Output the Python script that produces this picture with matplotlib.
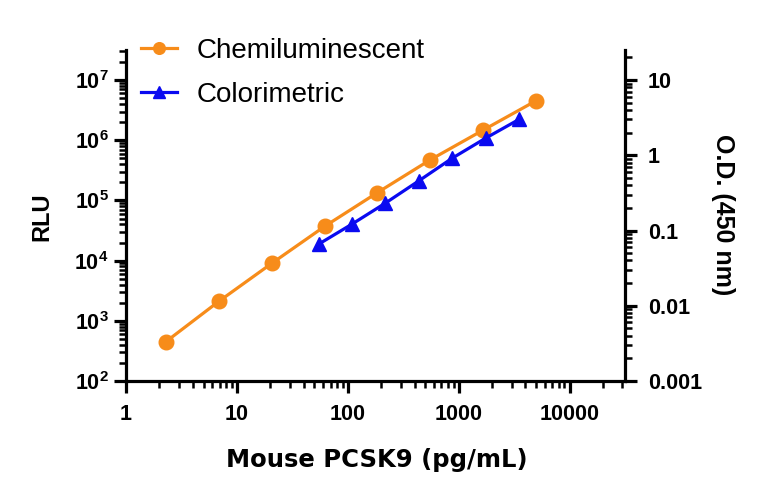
import numpy as np
import matplotlib
matplotlib.use("Agg")
import matplotlib.pyplot as plt
from matplotlib.ticker import LogLocator, NullFormatter, FuncFormatter

# Chemiluminescent standard curve (3-fold dilutions)
chemi_conc = [2.29, 6.86, 20.6, 61.7, 185, 556, 1667, 5000]
chemi_rlu = [450, 2100, 9000, 37000, 135000, 475000, 1.48e6, 4.55e6]

# Colorimetric standard curve (2-fold dilutions)
color_conc = [54.7, 109.4, 218.8, 437.5, 875, 1750, 3500]
color_od = [0.066, 0.122, 0.232, 0.458, 0.916, 1.69, 3.0]

xticks = [1, 10, 100, 1000, 10000]
xtick_labels = ["1", "10", "100", "1000", "10000"]
od_ticks = [0.001, 0.01, 0.1, 1, 10]
od_labels = ["0.001", "0.01", "0.1", "1", "10"]

orange = "#F78C1A"
blue = "#0A0AF0"

plt.rcParams["font.family"] = ["Liberation Sans", "DejaVu Sans"]
plt.rcParams["mathtext.fontset"] = "custom"
plt.rcParams["mathtext.rm"] = "Liberation Sans:bold"
plt.rcParams["mathtext.it"] = "Liberation Sans:bold"
plt.rcParams["mathtext.bf"] = "Liberation Sans:bold"

W, H = 768, 497
fig = plt.figure(figsize=(7.68, 4.97), dpi=100)
ax = fig.add_axes([126 / W, 1 - 381 / H, 499 / W, 331 / H])
ax2 = ax.twinx()

l1, = ax.plot(chemi_conc, chemi_rlu, "-o", color=orange, lw=2.3, ms=10.5,
              label="Chemiluminescent", zorder=3)
l2, = ax2.plot(color_conc, color_od, "-^", color=blue, lw=2.3, ms=10.5,
               label="Colorimetric", zorder=3)

ax.set_xscale("log")
ax.set_yscale("log")
ax2.set_yscale("log")
ax.set_xlim(1, 10 ** 4.5)
ax.set_ylim(100, 10 ** 7.5)
ax2.set_ylim(0.001, 10 ** 1.4)

for a in (ax, ax2):
    a.spines["top"].set_visible(False)
    for s in a.spines.values():
        s.set_linewidth(2.3)
ax.spines["right"].set_visible(False)
ax2.spines["left"].set_visible(False)
ax2.spines["bottom"].set_visible(False)

sub = np.arange(2, 10)
ax.set_xticks(xticks)
ax.set_xticklabels(xtick_labels)
ax.xaxis.set_minor_locator(LogLocator(base=10, subs=sub, numticks=20))
ax.xaxis.set_minor_formatter(NullFormatter())

ax.yaxis.set_major_locator(LogLocator(base=10, numticks=10))
ax.yaxis.set_minor_locator(LogLocator(base=10, subs=sub, numticks=20))
ax.yaxis.set_major_formatter(FuncFormatter(lambda v, p: r"$10^{%d}$" % round(np.log10(v))))
ax.yaxis.set_minor_formatter(NullFormatter())

ax2.set_yticks(od_ticks)
ax2.set_yticklabels(od_labels)
ax2.yaxis.set_minor_locator(LogLocator(base=10, subs=sub, numticks=20))
ax2.yaxis.set_minor_formatter(NullFormatter())

for a in (ax, ax2):
    a.tick_params(which="major", length=8.5, width=2.3, labelsize=15.5)
    a.tick_params(which="minor", length=5, width=1.8)
for lab in ax.get_xticklabels() + ax2.get_yticklabels():
    lab.set_fontweight("bold")
ax.tick_params(axis="x", which="major", pad=8)
ax.tick_params(axis="y", which="major", pad=4)
ax2.tick_params(axis="y", which="major", pad=8)

fig.text(377 / W, 1 - 460 / H, "Mouse PCSK9 (pg/mL)", fontsize=17.5, fontweight="bold",
         family="DejaVu Sans", ha="center", va="center")
fig.text(42 / W, 1 - 217 / H, "RLU", fontsize=17, fontweight="bold",
         rotation=90, ha="center", va="center")
fig.text(723 / W, 1 - 215 / H, "O.D. (450 nm)", fontsize=18, fontweight="bold",
         rotation=270, ha="center", va="center")

leg = fig.legend(handles=[l1, l2], loc="upper left", bbox_to_anchor=(141 / W, 1 - 38 / H),
                 frameon=False, prop={"family": "Liberation Sans", "size": 20},
                 handlelength=1.3, handletextpad=0.7, labelspacing=0.65,
                 markerscale=0.8, borderpad=0, borderaxespad=0)

fig.savefig("out.png", dpi=100)
